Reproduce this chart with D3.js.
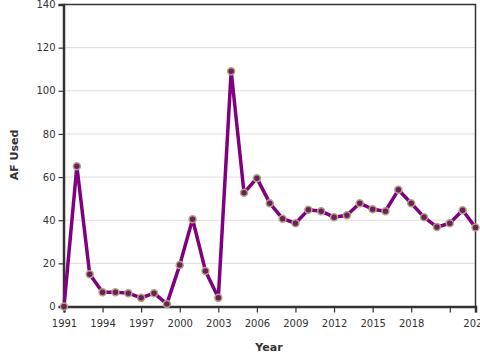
<!DOCTYPE html>
<html>
<head>
<meta charset="utf-8">
<script src="https://cdn.jsdelivr.net/npm/d3@7"></script>
<style>
  body { margin: 0; background: #fff; }
  text { font-family: "DejaVu Sans", sans-serif; }
</style>
</head>
<body>
<div id="chart"></div>
<script>
const years = d3.range(1991, 2024);
const afUsed = [0, 65, 15, 6.6, 6.6, 6.2, 4, 6.2, 1.2, 19.2, 40.5, 16.5, 4,
  109.1, 52.7, 59.5, 47.9, 40.7, 38.6, 44.8, 44.2, 41.4, 42.3, 47.9, 45.1,
  44.2, 54.1, 47.9, 41.4, 36.8, 38.6, 44.6, 36.6];
const xTicks = [1991, 1994, 1997, 2000, 2003, 2006, 2009, 2012, 2015, 2018, 2021, 2023];
const xLabeled = [1991, 1994, 1997, 2000, 2003, 2006, 2009, 2012, 2015, 2018, 2023];
const yTicks = [0, 20, 40, 60, 80, 100, 120, 140];

const data = years.map((yr, i) => ({ year: yr, value: afUsed[i] }));

const W = 480, H = 360;
const plotLeft = 63.5, plotRight = 475.5, plotTop = 4.5, plotBottom = 306.5;

const svg = d3.select('#chart')
  .append('svg')
  .attr('width', W)
  .attr('height', H);

const x = d3.scaleLinear().domain([1991, 2023]).range([plotLeft + 0.5, plotRight]);
const y = d3.scaleLinear().domain([0, 140]).range([plotBottom, plotTop]);

// gridlines
svg.append('g')
  .selectAll('line')
  .data(yTicks.slice(1))
  .enter()
  .append('line')
  .attr('x1', plotLeft).attr('x2', plotRight)
  .attr('y1', d => y(d)).attr('y2', d => y(d))
  .attr('stroke', '#ddd')
  .attr('stroke-width', 1);

// frame top + right
svg.append('path')
  .attr('d', `M${plotLeft},${plotTop}H${plotRight}V${plotBottom}`)
  .attr('fill', 'none')
  .attr('stroke', '#333')
  .attr('stroke-width', 1.5);

// y axis
const yAxis = svg.append('g')
  .attr('transform', `translate(${plotLeft},0)`)
  .call(d3.axisLeft(y).tickValues(yTicks).tickSize(5).tickPadding(3));
yAxis.select('.domain').attr('stroke', '#333').attr('stroke-width', 2.5);
yAxis.selectAll('.tick line').attr('stroke', '#333').attr('stroke-width', 1.2);
yAxis.selectAll('.tick text')
  .attr('fill', '#333')
  .style('font-size', '10px')
  .style('font-family', '"DejaVu Sans", sans-serif');

// x axis
const xAxis = svg.append('g')
  .attr('transform', `translate(0,${plotBottom})`)
  .call(d3.axisBottom(x).tickValues(xTicks).tickSize(6).tickPadding(7)
    .tickFormat(d => xLabeled.includes(d) ? String(d) : ''));
xAxis.select('.domain').attr('stroke', '#333').attr('stroke-width', 2.5);
xAxis.selectAll('.tick line').attr('stroke', '#333').attr('stroke-width', 1.2);
xAxis.selectAll('.tick text')
  .attr('fill', '#333')
  .style('font-size', '10px')
  .style('font-family', '"DejaVu Sans", sans-serif');

// axis titles
svg.append('text')
  .attr('x', 269).attr('y', 351)
  .attr('text-anchor', 'middle')
  .attr('fill', '#333')
  .style('font-size', '11px')
  .style('font-weight', 'bold')
  .text('Year');

svg.append('text')
  .attr('transform', 'translate(18,155) rotate(-90)')
  .attr('text-anchor', 'middle')
  .attr('fill', '#333')
  .style('font-size', '11px')
  .style('font-weight', 'bold')
  .text('AF Used');

// line
const line = d3.line()
  .x(d => x(d.year))
  .y(d => y(d.value));

svg.append('path')
  .datum(data)
  .attr('fill', 'none')
  .attr('stroke', '#800080')
  .attr('stroke-width', 3.5)
  .attr('stroke-linejoin', 'round')
  .attr('d', line);

// points
svg.append('g')
  .selectAll('circle')
  .data(data)
  .enter()
  .append('circle')
  .attr('cx', d => x(d.year))
  .attr('cy', d => y(d.value))
  .attr('r', 3.5)
  .attr('fill', '#6b1f5e')
  .attr('stroke', '#b3a47f')
  .attr('stroke-width', 1.5);
</script>
</body>
</html>
